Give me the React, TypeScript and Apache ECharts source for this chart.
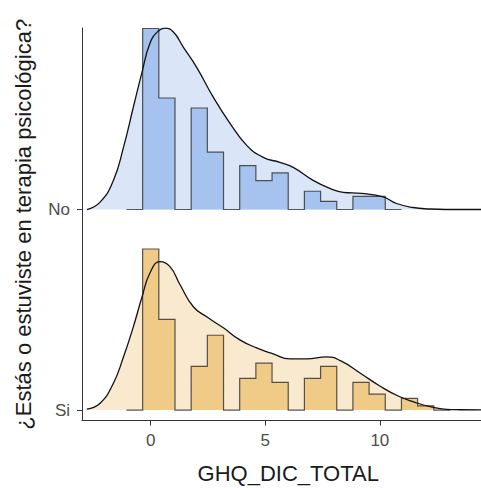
import React, { useEffect, useRef } from "react";
import * as echarts from "echarts";

// Ridge baselines on the y scale (one unit between ridges)
const groups = ["Si", "No"];
const baseNo = 1;
const baseSi = 0;

// Histogram bins (binline, padded with an empty bin on each side)
const binStart = -1.059;
const binWidth = 0.706;
const histNo = [0, 0.9025, 0.556, 0, 0.506, 0.286, 0, 0.219, 0.144, 0.1825, 0, 0.091, 0.041, 0, 0.065, 0.065, 0];
const histSi = [0, 0.803, 0.452, 0, 0.218, 0.373, 0, 0.158, 0.234, 0.138, 0, 0.158, 0.218, 0, 0.138, 0.08, 0, 0.058, 0.021, 0];

// Kernel density estimates, sampled along x
const densNoX = [-2.79, -2.21, -1.63, -1.19, -0.76, -0.39, -0.03, 0.33, 0.62, 0.99, 1.42, 2.0, 2.73, 3.46, 4.19, 4.91, 5.64, 6.22, 7.09, 7.82, 8.4, 9.2, 10.14, 10.73, 11.45, 12.18, 12.9, 15.0];
const densNoY = [0, 0.037, 0.145, 0.31, 0.51, 0.68, 0.83, 0.89, 0.904, 0.885, 0.81, 0.71, 0.56, 0.43, 0.32, 0.26, 0.235, 0.21, 0.145, 0.105, 0.085, 0.08, 0.063, 0.03, 0.01, 0.0025, 0, 0];
const densSiX = [-2.79, -2.21, -1.63, -1.19, -0.76, -0.39, -0.03, 0.41, 0.84, 1.28, 1.86, 2.44, 3.17, 3.89, 4.62, 5.35, 6.07, 6.8, 7.68, 8.3, 9.2, 10.0, 10.8, 11.5, 12.2, 12.9, 13.5, 15.0];
const densSiY = [0.005, 0.034, 0.134, 0.265, 0.415, 0.56, 0.685, 0.74, 0.715, 0.625, 0.515, 0.465, 0.41, 0.35, 0.31, 0.28, 0.255, 0.255, 0.265, 0.245, 0.18, 0.12, 0.07, 0.04, 0.017, 0.0035, 0.0015, 0];

const xTicks = [0, 5, 10];

const colors = {
  No: { hist: "#a6c3f0", dens: "#dae5f7" },
  Si: { hist: "#f0cb88", dens: "#f9e9cf" },
};

const FONT = "'Liberation Sans', Arial, Helvetica, sans-serif";

function histSeries(values: number[], base: number, fill: string) {
  return {
    type: "custom",
    z: 2,
    silent: true,
    clip: false,
    data: [[0, base]],
    renderItem: (_params: any, api: any) => {
      // stepped outline: bottom of the first bin, across each bin top, down at the end
      const pts: number[][] = [];
      pts.push(api.coord([binStart, base]));
      values.forEach((v, i) => {
        const x0 = binStart + i * binWidth;
        const x1 = x0 + binWidth;
        pts.push(api.coord([x0, base + v]));
        pts.push(api.coord([x1, base + v]));
      });
      pts.push(api.coord([binStart + values.length * binWidth, base]));
      return {
        type: "group",
        children: [
          { type: "polygon", shape: { points: pts }, style: { fill, stroke: "none" } },
          {
            type: "polyline",
            shape: { points: pts },
            style: { fill: "none", stroke: "rgba(45,45,45,0.8)", lineWidth: 1.2 },
          },
        ],
      };
    },
  };
}

function densityFill(xs: number[], ys: number[], base: number, fill: string) {
  return {
    type: "line",
    z: 1,
    silent: true,
    smooth: 0.5,
    showSymbol: false,
    symbol: "none",
    data: xs.map((x, i) => [x, base + ys[i]]),
    lineStyle: { width: 0, opacity: 0 },
    areaStyle: { color: fill, opacity: 1, origin: base },
  };
}

function densityLine(xs: number[], ys: number[], base: number) {
  return {
    type: "line",
    z: 3,
    silent: true,
    smooth: 0.5,
    showSymbol: false,
    symbol: "none",
    data: xs.map((x, i) => [x, base + ys[i]]),
    lineStyle: { width: 1.3, color: "#111" },
  };
}

export default function App() {
  const ref = useRef<HTMLDivElement>(null);
  useEffect(() => {
    if (!ref.current) return;
    const chart = echarts.init(ref.current, undefined, { renderer: "svg" });
    chart.setOption({
      animation: false,
      backgroundColor: "#ffffff",
      grid: { left: 82, top: 28, right: -13.4, bottom: 67.5, outerBoundsMode: "none" },
      xAxis: {
        type: "value",
        min: -3,
        max: 15,
        splitLine: { show: false },
        axisLine: { show: true, onZero: false, lineStyle: { color: "#333", width: 1 } },
        axisTick: { show: true, customValues: xTicks, length: 5, lineStyle: { color: "#333" } },
        axisLabel: { customValues: xTicks, color: "#4d4d4d", fontSize: 17, fontFamily: FONT, margin: 11 },
        name: "GHQ_DIC_TOTAL",
        nameLocation: "middle",
        nameGap: 42,
        nameTextStyle: { color: "#1a1a1a", fontSize: 22, fontFamily: FONT },
      },
      yAxis: {
        type: "value",
        min: -0.052,
        max: 1.905,
        splitLine: { show: false },
        axisLine: { show: true, onZero: false, lineStyle: { color: "#333", width: 1 } },
        axisTick: { show: true, customValues: [baseSi, baseNo], length: 5, lineStyle: { color: "#333" } },
        axisLabel: {
          customValues: [baseSi, baseNo],
          formatter: (v: number) => groups[Math.round(v)],
          color: "#4d4d4d",
          fontSize: 17,
          fontFamily: FONT,
          margin: 12,
        },
        name: "¿Estás o estuviste en terapia psicológica?",
        nameLocation: "middle",
        nameRotate: 90,
        nameGap: 48,
        nameTextStyle: { color: "#1a1a1a", fontSize: 22, fontFamily: FONT },
      },
      series: [
        densityFill(densNoX, densNoY, baseNo, colors.No.dens),
        densityFill(densSiX, densSiY, baseSi, colors.Si.dens),
        histSeries(histNo, baseNo, colors.No.hist),
        histSeries(histSi, baseSi, colors.Si.hist),
        densityLine(densNoX, densNoY, baseNo),
        densityLine(densSiX, densSiY, baseSi),
      ],
    });
    return () => chart.dispose();
  }, []);
  return (
    <div
      ref={ref}
      style={{ position: "fixed", left: 0, top: 0, width: 481, height: 488, background: "#fff" }}
    />
  );
}
